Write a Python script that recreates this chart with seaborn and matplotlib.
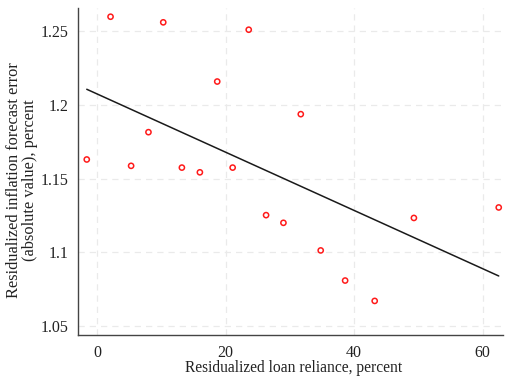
import numpy as np
import pandas as pd
import matplotlib
matplotlib.use("Agg")
import matplotlib.pyplot as plt
import seaborn as sns
from matplotlib.ticker import FuncFormatter

# binned residuals
loan_reliance = [-1.6, 2.1, 5.3, 8.0, 10.3, 13.2, 16.0, 18.7, 21.1, 23.6,
                 26.3, 29.0, 31.7, 34.8, 38.6, 43.2, 49.3, 62.5]
forecast_error = [1.1630, 1.2597, 1.1587, 1.1815, 1.2559, 1.1575, 1.1543, 1.2158, 1.1575, 1.2509,
                  1.1253, 1.1201, 1.1937, 1.1014, 1.0810, 1.0672, 1.1234, 1.1305]

# linear fit shown in the figure
fit_intercept = 1.2074
fit_slope = -0.001973

x_ticks = [0, 20, 40, 60]
y_ticks = [1.05, 1.10, 1.15, 1.20, 1.25]

df = pd.DataFrame({"x": loan_reliance, "y": forecast_error})
fit_x = np.array([min(loan_reliance), max(loan_reliance)])
fit = pd.DataFrame({"x": fit_x, "y": fit_intercept + fit_slope * fit_x})

sns.set_style("white")
plt.rcParams["font.family"] = ["Liberation Serif", "DejaVu Serif"]

fig = plt.figure(figsize=(5.05, 3.76), dpi=100)
ax = fig.add_axes([0.1545, 0.109, 0.842, 0.8697])

sns.lineplot(data=fit, x="x", y="y", color="#1a1a1a", linewidth=1.1, ax=ax, zorder=2)
sns.scatterplot(data=df, x="x", y="y", marker="o", s=14, facecolor="none",
                edgecolor="#ff1a1a", linewidth=1.1, ax=ax, zorder=3)

ax.set_xlim(-2.96, 63.2)
ax.set_ylim(1.0441, 1.2656)
ax.set_xticks(x_ticks)
ax.set_yticks(y_ticks)
ax.yaxis.set_major_formatter(FuncFormatter(lambda v, p: f"{v:g}"))
ax.grid(True, color="#eaeaea", linestyle=(0, (5, 4)), linewidth=0.9)
ax.set_axisbelow(True)

for side in ["top", "right"]:
    ax.spines[side].set_visible(False)
for side in ["left", "bottom"]:
    ax.spines[side].set_color("#444444")
    ax.spines[side].set_linewidth(1.0)
ax.tick_params(axis="both", direction="out", length=4, width=0.9, color="#444444",
               labelsize=11.5, labelcolor="#222222", pad=3)

ax.set_xlabel("Residualized loan reliance, percent", fontsize=11.2, color="#222222", va="baseline")
ax.xaxis.set_label_coords(0.506, -0.113)
ax.set_ylabel("Residualized inflation forecast error\n(absolute value), percent",
              fontsize=11.8, color="#222222", va="center", linespacing=1.0)
ax.yaxis.set_label_coords(-0.131, 0.474)

plt.savefig("out.png", dpi=100)
plt.close()
